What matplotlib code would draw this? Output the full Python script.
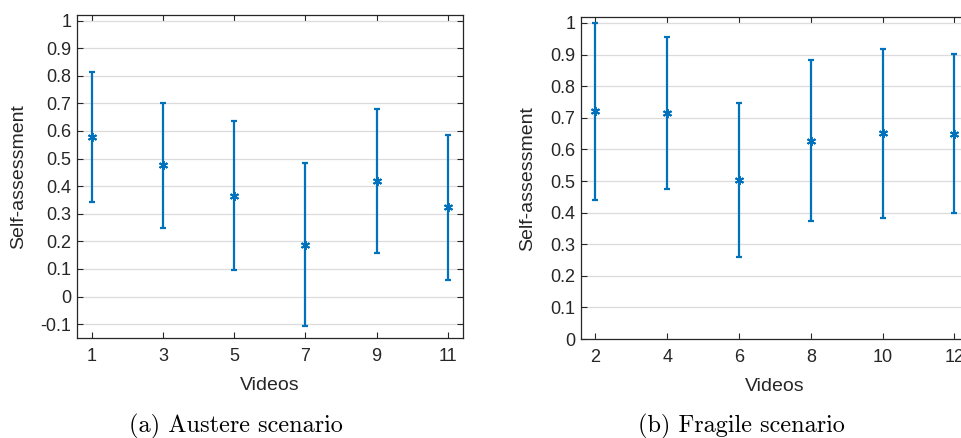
import numpy as np
import matplotlib.pyplot as plt

# Austere scenario
videos_a = [1, 3, 5, 7, 9, 11]
mean_a = [0.578, 0.475, 0.366, 0.188, 0.420, 0.323]
err_a = [0.236, 0.226, 0.270, 0.296, 0.261, 0.263]

# Fragile scenario
videos_b = [2, 4, 6, 8, 10, 12]
mean_b = [0.721, 0.716, 0.504, 0.628, 0.651, 0.650]
err_b = [0.280, 0.241, 0.244, 0.256, 0.267, 0.252]

yticks_a = [-0.1, 0, 0.1, 0.2, 0.3, 0.4, 0.5, 0.6, 0.7, 0.8, 0.9, 1]
yticks_b = [0, 0.1, 0.2, 0.3, 0.4, 0.5, 0.6, 0.7, 0.8, 0.9, 1]

blue = "#0072BD"
plt.rcParams["font.family"] = ["Liberation Sans", "DejaVu Sans"]

fig = plt.figure(figsize=(9.62, 4.38), dpi=100)
ax1 = fig.add_axes([0.080, 0.2283, 0.401, 0.7375])
ax2 = fig.add_axes([0.604, 0.226, 0.403, 0.7345])


def fmt(v):
    s = "%g" % round(v, 2)
    return s


def style(ax, xt, yt, xlim, ylim):
    ax.set_xlim(*xlim)
    ax.set_ylim(*ylim)
    ax.set_xticks(xt)
    ax.set_yticks(yt)
    ax.set_yticklabels([fmt(v) for v in yt])
    ax.tick_params(direction="in", top=True, right=True, length=4,
                   width=0.8, labelsize=13, colors="#262626",
                   labelcolor="#262626")
    ax.tick_params(axis="x", pad=7)
    ax.tick_params(axis="y", pad=4)
    ax.yaxis.grid(True, color="#dcdcdc", linewidth=0.9)
    ax.set_axisbelow(True)
    for s in ax.spines.values():
        s.set_linewidth(0.9)
        s.set_color("#262626")
    ax.set_xlabel("Videos", fontsize=14, color="#262626", labelpad=9)
    ax.set_ylabel("Self-assessment", fontsize=14, color="#262626", labelpad=10)


for ax, x, m, e in [(ax1, videos_a, mean_a, err_a), (ax2, videos_b, mean_b, err_b)]:
    ax.errorbar(x, m, yerr=e, fmt="none", ecolor=blue, elinewidth=1.6,
                capsize=2.4, capthick=1.6, clip_on=False)
    ax.plot(x, m, linestyle="none", marker=(6, 2, 0), markersize=6.5,
            markeredgewidth=1.4, color=blue, clip_on=False)

style(ax1, videos_a, yticks_a, (0.58, 11.42), (-0.15, 1.02))
style(ax2, videos_b, yticks_b, (1.6, 12.4), (0, 1.018))

fig.text(0.245, 0.0137, "(a) Austere scenario", family="cmr10", fontsize=17.5,
         ha="center", va="baseline")
fig.text(0.771, 0.0137, "(b) Fragile scenario", family="cmr10", fontsize=17.5,
         ha="center", va="baseline")

fig.savefig("out.png", dpi=100)
